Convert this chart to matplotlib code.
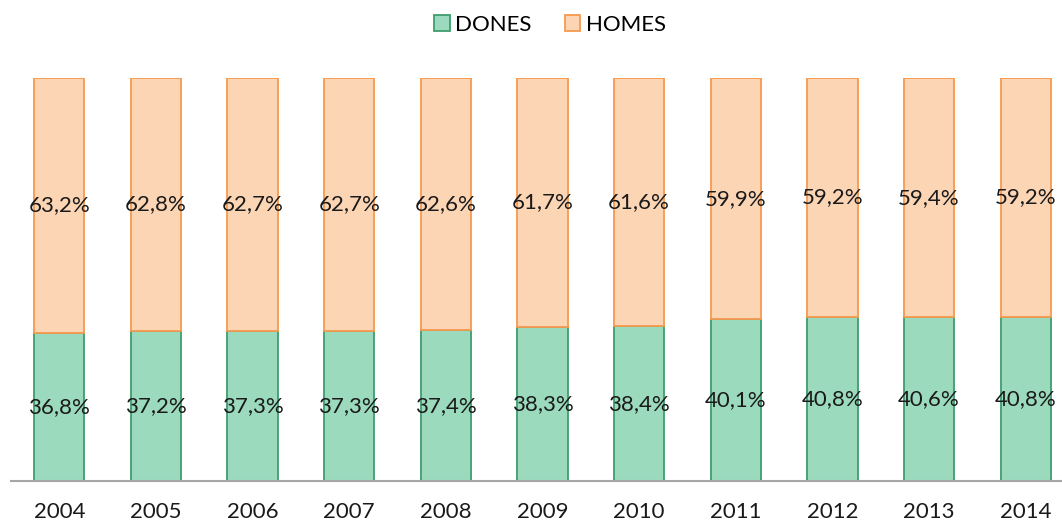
import numpy as np
import matplotlib.pyplot as plt

plt.rcParams['font.family'] = ['Lato', 'DejaVu Sans']

years = ['2004', '2005', '2006', '2007', '2008', '2009', '2010', '2011', '2012', '2013', '2014']
dones = [36.8, 37.2, 37.3, 37.3, 37.4, 38.3, 38.4, 40.1, 40.8, 40.6, 40.8]
homes = [63.2, 62.8, 62.7, 62.7, 62.6, 61.7, 61.6, 59.9, 59.2, 59.4, 59.2]

fig = plt.figure(figsize=(10.62, 5.26), dpi=100)
ax = fig.add_axes([11 / 1062, 45 / 526, 1063 / 1062, 403 / 526])

x = np.arange(len(years))
d = np.array(dones)
h = np.array(homes)
tot = d + h
dp = d / tot * 100
hp = h / tot * 100

fs = 16
w = 0.52
b1 = ax.bar(x, dp, w, color='#9bdabd', edgecolor='#3f9c6f', linewidth=1.3, label='DONES')
b2 = ax.bar(x, hp, w, bottom=dp, color='#fcd5b5', edgecolor='#f79a4e', linewidth=1.3, label='HOMES')

for i in range(len(years)):
    ax.text(x[i], dp[i] / 2, f"{dones[i]:.1f}%".replace('.', ','), ha='center', va='center', fontsize=fs, color='#1a1a1a')
    ax.text(x[i], dp[i] + hp[i] / 2, f"{homes[i]:.1f}%".replace('.', ','), ha='center', va='center', fontsize=fs, color='#1a1a1a')

ax.set_xlim(-0.5, 10.5)
ax.set_ylim(0, 100)
ax.set_xticks(x)
ax.set_xticklabels(years, fontsize=fs, color='#1a1a1a')
ax.tick_params(axis='x', length=0, pad=15)
ax.set_yticks([])
for s in ['top', 'right', 'left']:
    ax.spines[s].set_visible(False)
ax.spines['bottom'].set_color('#a6a6a6')
ax.spines['bottom'].set_linewidth(1.5)

fig.legend(handles=[b1, b2], loc='center', bbox_to_anchor=(550 / 1062, 1 - 25 / 526), ncol=2, frameon=False,
           fontsize=fs, handlelength=0.7, handleheight=0.7, handletextpad=0.25, columnspacing=1.5)

fig.savefig('out.png', dpi=100)
